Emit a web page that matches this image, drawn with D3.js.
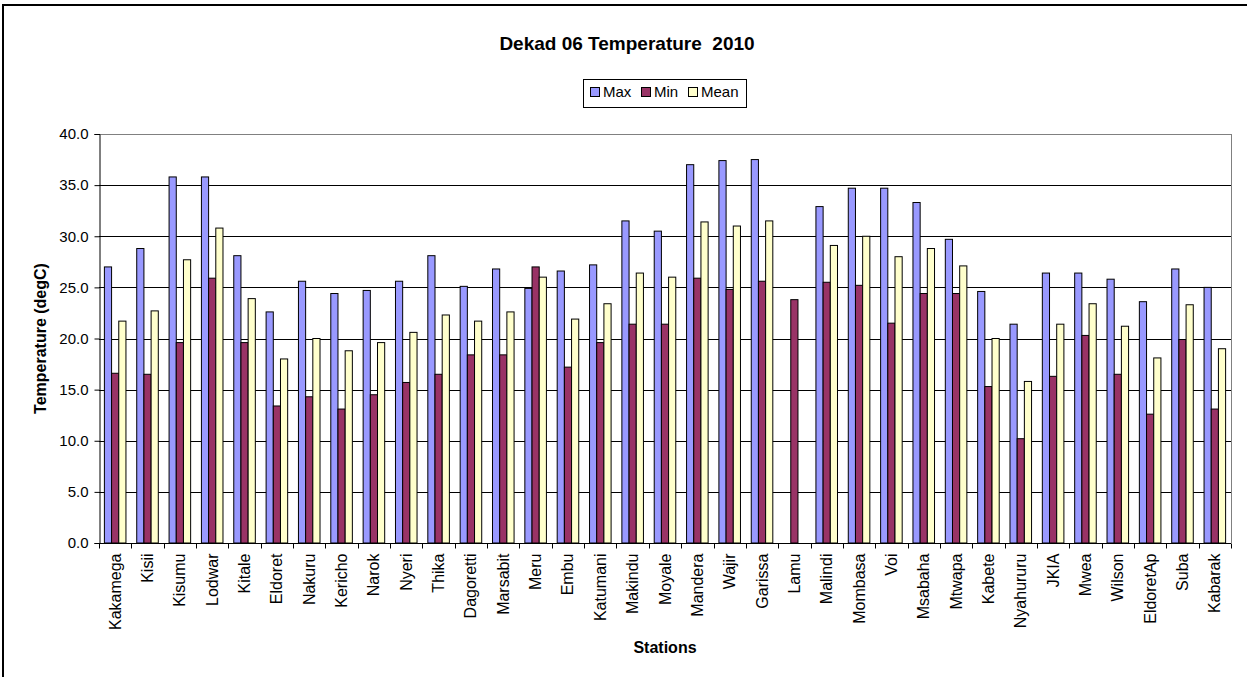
<!DOCTYPE html>
<html>
<head>
<meta charset="utf-8">
<script src="https://cdn.jsdelivr.net/npm/d3@7"></script>
<style>
  body { margin: 0; background: #fff; }
  svg { display: block; font-family: 'Liberation Sans', Arial, sans-serif; }
</style>
</head>
<body>
<svg id="chart" width="1247" height="677"></svg>
<script>
const stations = ['Kakamega', 'Kisii', 'Kisumu', 'Lodwar', 'Kitale', 'Eldoret', 'Nakuru', 'Kericho',
  'Narok', 'Nyeri', 'Thika', 'Dagoretti', 'Marsabit', 'Meru', 'Embu', 'Katumani', 'Makindu', 'Moyale',
  'Mandera', 'Wajir', 'Garissa', 'Lamu', 'Malindi', 'Mombasa', 'Voi', 'Msabaha', 'Mtwapa', 'Kabete',
  'Nyahururu', 'JKIA', 'Mwea', 'Wilson', 'EldoretAp', 'Suba', 'Kabarak'];

const maxTemp = [27.0, 28.8, 35.8, 35.8, 28.1, 22.6, 25.6, 24.4, 24.7, 25.6, 28.1, 25.1, 26.8, 24.9,
  26.6, 27.2, 31.5, 30.5, 37.0, 37.4, 37.5, null, 32.9, 34.7, 34.7, 33.3, 29.7, 24.6, 21.4, 26.4,
  26.4, 25.8, 23.6, 26.8, 25.0];

const minTemp = [16.6, 16.5, 19.6, 25.9, 19.6, 13.4, 14.3, 13.1, 14.5, 15.7, 16.5, 18.4, 18.4, 27.0,
  17.2, 19.6, 21.4, 21.4, 25.9, 24.8, 25.6, 23.8, 25.5, 25.2, 21.5, 24.4, 24.4, 15.3, 10.2, 16.3,
  20.3, 16.5, 12.6, 19.9, 13.1];

const meanTemp = [21.7, 22.7, 27.7, 30.8, 23.9, 18.0, 20.0, 18.8, 19.6, 20.6, 22.3, 21.7, 22.6, 26.0,
  21.9, 23.4, 26.4, 26.0, 31.4, 31.0, 31.5, null, 29.1, 30.0, 28.0, 28.8, 27.1, 20.0, 15.8, 21.4,
  23.4, 21.2, 18.1, 23.3, 19.0];

const seriesNames = ['Max', 'Min', 'Mean'];
const seriesColors = ['#9999FF', '#993366', '#FFFFCC'];
const yTicks = [0, 5, 10, 15, 20, 25, 30, 35, 40];

const svg = d3.select('#chart');
const plot = { left: 99, right: 1231, top: 134, bottom: 543 };

// chart frame
svg.append('rect')
  .attr('x', 3).attr('y', 5)
  .attr('width', 1270).attr('height', 700)
  .attr('fill', 'none')
  .attr('stroke', '#000')
  .attr('stroke-width', 2);

let x = d3.scaleBand()
  .domain(stations)
  .range([plot.left, plot.right]);

// Excel style gap width 150%
let barW = x.bandwidth() / 4.5;
let x1 = d3.scaleBand()
  .domain(seriesNames)
  .range([barW * 0.75, barW * 3.75]);

let y = d3.scaleLinear()
  .domain([0, 40])
  .range([plot.bottom, plot.top]);

// gridlines
svg.append('g')
  .selectAll('line')
  .data(yTicks.filter(d => d > 0))
  .enter()
  .append('line')
    .attr('x1', plot.left).attr('x2', plot.right)
    .attr('y1', d => Math.round(y(d)) + 0.5)
    .attr('y2', d => Math.round(y(d)) + 0.5)
    .attr('stroke', d => d === 40 ? '#808080' : '#000')
    .attr('stroke-width', 1);

// right border of plot area
svg.append('line')
  .attr('x1', plot.right + 0.5).attr('x2', plot.right + 0.5)
  .attr('y1', plot.top).attr('y2', plot.bottom)
  .attr('stroke', '#808080');

let series = [maxTemp, minTemp, meanTemp];

let groups = svg.append('g')
  .selectAll('g')
  .data(seriesNames)
  .enter()
  .append('g')
  .attr('fill', (d, i) => seriesColors[i]);

groups.selectAll('rect')
  .data((name, i) => stations.map((s, j) => ({ station: s, name: name, value: series[i][j] }))
    .filter(d => d.value != null))
  .enter()
  .append('rect')
    .attr('x', d => x(d.station) + x1(d.name))
    .attr('y', d => y(d.value))
    .attr('width', x1.bandwidth())
    .attr('height', d => y(0) - y(d.value))
    .attr('stroke', '#000')
    .attr('stroke-width', 1);

// y axis
let yAxis = svg.append('g')
  .attr('transform', 'translate(' + (plot.left + 0.5) + ',0)')
  .call(d3.axisLeft(y).tickValues(yTicks).tickFormat(d3.format('.1f')).tickSize(5).tickPadding(6));
yAxis.select('.domain').attr('stroke', '#000');
yAxis.selectAll('.tick line').attr('stroke', '#000');
yAxis.selectAll('text')
  .attr('font-size', 15)
  .attr('fill', '#000')
  .attr('font-family', "'Liberation Sans', Arial, sans-serif");

// x axis: ticks at category boundaries
let xAxis = svg.append('g')
  .attr('transform', 'translate(0,' + (plot.bottom + 0.5) + ')');
xAxis.append('line')
  .attr('x1', plot.left).attr('x2', plot.right)
  .attr('stroke', '#000');
xAxis.selectAll('.bound')
  .data(stations.concat(['_end']))
  .enter()
  .append('line')
    .attr('class', 'bound')
    .attr('x1', (d, i) => Math.round(plot.left + i * x.bandwidth()) + 0.5)
    .attr('x2', (d, i) => Math.round(plot.left + i * x.bandwidth()) + 0.5)
    .attr('y1', 0).attr('y2', 5)
    .attr('stroke', '#000');
xAxis.selectAll('.lbl')
  .data(stations)
  .enter()
  .append('text')
    .attr('class', 'lbl')
    .attr('transform', d => 'translate(' + (x(d) + x.bandwidth() / 2 + 5.5) + ',10) rotate(-90)')
    .attr('text-anchor', 'end')
    .attr('font-size', 16)
    .text(d => d);

// titles
svg.append('text')
  .attr('x', 627).attr('y', 50)
  .attr('text-anchor', 'middle')
  .attr('font-size', 19)
  .attr('font-weight', 'bold')
  .style('white-space', 'pre')
  .text('Dekad 06 Temperature  2010');

svg.append('text')
  .attr('x', (plot.left + plot.right) / 2).attr('y', 653)
  .attr('text-anchor', 'middle')
  .attr('font-size', 16)
  .attr('font-weight', 'bold')
  .text('Stations');

svg.append('text')
  .attr('transform', 'translate(46,' + ((plot.top + plot.bottom) / 2) + ') rotate(-90)')
  .attr('text-anchor', 'middle')
  .attr('font-size', 16)
  .attr('font-weight', 'bold')
  .text('Temperature (degC)');

// legend
let legend = svg.append('g').attr('transform', 'translate(583,79)');
legend.append('rect')
  .attr('x', 0.5).attr('y', 0.5)
  .attr('width', 163).attr('height', 28)
  .attr('fill', '#fff')
  .attr('stroke', '#000');

let legendX = [7, 58, 105];
let item = legend.selectAll('.item')
  .data(seriesNames)
  .enter()
  .append('g')
  .attr('transform', (d, i) => 'translate(' + legendX[i] + ',0)');
item.append('rect')
  .attr('x', 0.5).attr('y', 8.5)
  .attr('width', 9).attr('height', 9)
  .attr('fill', (d, i) => seriesColors[i])
  .attr('stroke', '#000');
item.append('text')
  .attr('x', 13).attr('y', 18)
  .attr('font-size', 15)
  .text(d => d);
</script>
</body>
</html>
